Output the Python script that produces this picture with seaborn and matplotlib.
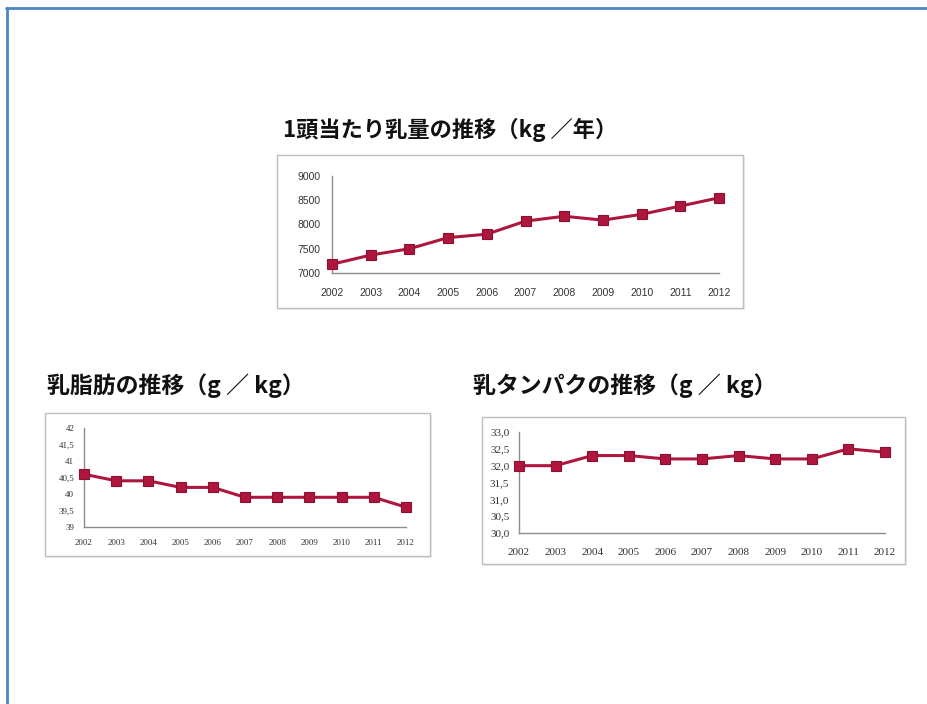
'''three small dairy trend charts (milk yield, fat, protein) on one page'''

import pandas as pd
import seaborn as sns
import matplotlib.pyplot as plt
from matplotlib.patches import Rectangle
from matplotlib.lines import Line2D

# data
years = [2002, 2003, 2004, 2005, 2006, 2007, 2008, 2009, 2010, 2011, 2012]
milk_per_cow = [7180, 7370, 7500, 7730, 7800, 8070, 8170, 8090, 8210, 8380, 8550]
milk_fat = [40.6, 40.4, 40.4, 40.2, 40.2, 39.9, 39.9, 39.9, 39.9, 39.9, 39.6]
milk_protein = [32.0, 32.0, 32.3, 32.3, 32.2, 32.2, 32.3, 32.2, 32.2, 32.5, 32.4]

year_labels = [str(y) for y in years]
milk_ticks = [7000, 7500, 8000, 8500, 9000]
milk_tick_labels = ['7000', '7500', '8000', '8500', '9000']
fat_ticks = [39, 39.5, 40, 40.5, 41, 41.5, 42]
fat_tick_labels = ['39', '39,5', '40', '40,5', '41', '41,5', '42']
protein_ticks = [30.0, 30.5, 31.0, 31.5, 32.0, 32.5, 33.0]
protein_tick_labels = ['30,0', '30,5', '31,0', '31,5', '32,0', '32,5', '33,0']

title_milk = '1頭当たり乳量の推移（kg ／年）'
title_fat = '乳脂肪の推移（g ／ kg）'
title_protein = '乳タンパクの推移（g ／ kg）'

W, H = 928, 704
LINE_COLOR = '#AE163E'
AXIS_COLOR = '#8C8C8C'

sns.set_theme(style='white')
plt.rcParams['font.family'] = ['Noto Sans CJK JP', 'DejaVu Sans']

fig = plt.figure(figsize=(W / 100, H / 100), dpi=100)
fig.patch.set_facecolor('white')


def px_axes(x0, y0, x1, y1):
    ax = fig.add_axes([x0 / W, 1 - y1 / H, (x1 - x0) / W, (y1 - y0) / H])
    ax.set_zorder(3)
    return ax


def px_box(x0, y0, x1, y1):
    # light shadow then the grey frame around each little chart
    fig.patches.append(Rectangle((x0 / W + 0.002, 1 - y1 / H - 0.003), (x1 - x0) / W, (y1 - y0) / H,
                                 transform=fig.transFigure, facecolor='#EDEDED',
                                 edgecolor='none', zorder=0))
    fig.patches.append(Rectangle((x0 / W, 1 - y1 / H), (x1 - x0) / W, (y1 - y0) / H,
                                 transform=fig.transFigure, facecolor='white',
                                 edgecolor='#BDBDBD', linewidth=1.0, zorder=0.5))


def draw_panel(ax, values, ticks, tick_labels, font, fsize, xpad, ypad):
    df = pd.DataFrame({'year': years, 'value': values})
    sns.lineplot(data=df, x='year', y='value', ax=ax, color=LINE_COLOR, linewidth=2.2,
                 marker='s', markersize=6.5, markeredgecolor='#8E1030',
                 markeredgewidth=0.8, clip_on=False, zorder=5)
    ax.set_facecolor('none')
    ax.set_xlim(years[0], years[-1])
    ax.set_ylim(ticks[0], ticks[-1])
    ax.set_xticks(years)
    ax.set_xticklabels(year_labels, fontfamily=font, fontsize=fsize, color='#333333')
    ax.set_yticks(ticks)
    ax.set_yticklabels(tick_labels, fontfamily=font, fontsize=fsize, color='#333333')
    ax.set_xlabel('')
    ax.set_ylabel('')
    for side in ['top', 'right']:
        ax.spines[side].set_visible(False)
    for side in ['left', 'bottom']:
        ax.spines[side].set_color(AXIS_COLOR)
        ax.spines[side].set_linewidth(1.0)
    ax.tick_params(axis='x', direction='inout', length=5, width=0.8, color=AXIS_COLOR, pad=xpad)
    ax.tick_params(axis='y', direction='out', length=2, width=0.6, color=AXIS_COLOR, pad=ypad)
    ax.grid(False)


# outer blue frame (open on right and bottom)
fig.lines.append(Line2D([6 / W, 1], [1 - 8 / H, 1 - 8 / H], transform=fig.transFigure,
                        color='#4A86C8', linewidth=2))
fig.lines.append(Line2D([7 / W, 7 / W], [1 - 8 / H, 0], transform=fig.transFigure,
                        color='#4A86C8', linewidth=2))

# milk yield per cow
px_box(277, 155, 743, 308)
ax1 = px_axes(332, 176, 719, 273)
draw_panel(ax1, milk_per_cow, milk_ticks, milk_tick_labels, 'Liberation Sans', 7.5, 8, 6)
fig.text(283 / W, 1 - 130 / H, title_milk, fontsize=16, fontweight='bold',
         va='center', ha='left', color='#111111')

# milk fat
px_box(45, 413, 430, 556)
ax2 = px_axes(84, 428, 406, 527)
draw_panel(ax2, milk_fat, fat_ticks, fat_tick_labels, 'Liberation Serif', 6.5, 6, 5)
fig.text(47 / W, 1 - 386 / H, title_fat, fontsize=16.5, fontweight='bold',
         va='center', ha='left', color='#111111')

# milk protein
px_box(482, 417, 905, 564)
ax3 = px_axes(519, 432, 885, 533)
draw_panel(ax3, milk_protein, protein_ticks, protein_tick_labels, 'Liberation Serif', 8, 8, 5)
fig.text(473 / W, 1 - 386 / H, title_protein, fontsize=16.5, fontweight='bold',
         va='center', ha='left', color='#111111')

fig.savefig('out.png', dpi=100, facecolor='white')
